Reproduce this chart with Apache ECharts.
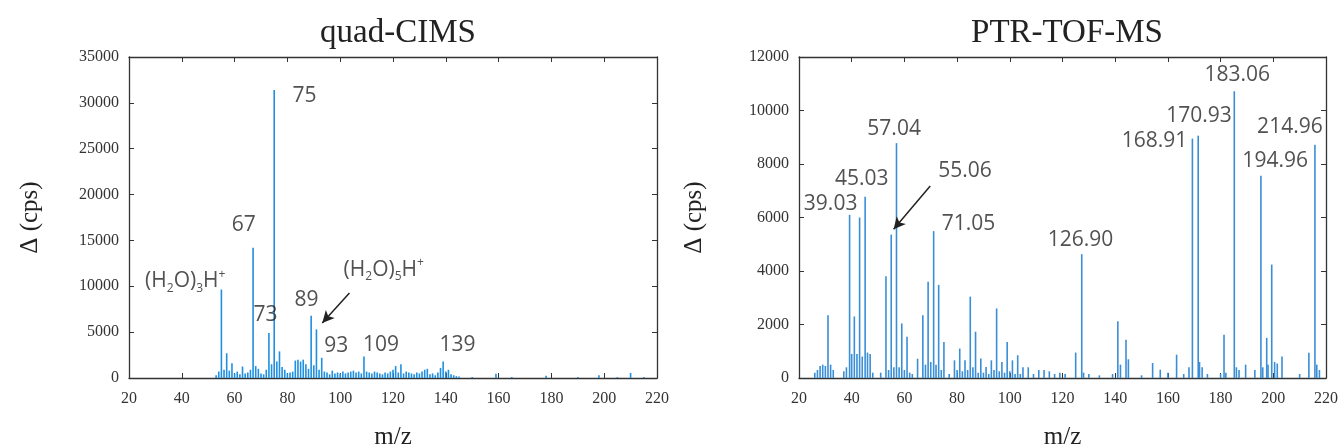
<!DOCTYPE html>
<html>
<head>
<meta charset="utf-8">
<script src="https://cdn.jsdelivr.net/npm/echarts@6/dist/echarts.min.js"></script>
<style>html,body{margin:0;background:#fff}#chart{width:1344px;height:448px}</style>
</head>
<body>
<div id="chart"></div>
<script>
// quad-CIMS spectrum (unit resolution)
var quadMz = [53,54,55,56,57,58,59,60,61,62,63,64,65,66,67,68,69,70,71,72,73,74,75,76,77,78,79,80,81,82,83,84,85,86,87,88,89,90,91,92,93,94,95,96,97,98,99,100,101,102,103,104,105,106,107,108,109,110,111,112,113,114,115,116,117,118,119,120,121,122,123,124,125,126,127,128,129,130,131,132,133,134,135,136,137,138,139,140,141,142,143,144,145,150,159,165,178,190,198,205,210,215];
var quadCps = [300,700,9640,900,2700,800,1600,500,700,400,1250,500,600,900,14200,1300,1000,500,400,900,4900,1500,31400,1800,2900,1200,900,500,600,700,1900,2000,1800,2000,1500,1000,6800,1400,5300,900,2200,700,600,400,800,500,600,500,700,500,600,700,800,600,700,500,2350,700,600,500,700,600,500,400,600,500,700,900,1300,600,1500,500,700,600,500,400,600,500,700,900,1000,400,500,300,600,1100,1800,700,900,400,300,200,150,100,450,100,250,100,300,100,550,100];

// PTR-TOF-MS spectrum
var ptrMz = [26,27,28,29,30,31,32,33,37,38,39.2,40,41,42,43,44,45.1,46,47,48,51,53,54,55,56,57,58,59,60,61,62,63,65,67,68,69,70,71.1,72,73,74,75,77,79,80,81,82,83,84,85,86,87,88,89,90,91,92,93,94,95,96,97,98,99,100,101,102,103,104,105,107,109,111,113,115,117,119,121,125,127.3,128,130,134,139,141,142,144.1,145,150,154.2,157.1,160,163.3,166,168,169.3,171.5,172,173,175,180,181.3,182,185.2,186,187,189.5,193,195.3,196,197.5,198,199.4,200.5,201.5,203.3,210,213.5,215.8,216.5,217.5];
var ptrCps = [200,300,450,500,450,2350,500,300,250,400,6100,900,2300,900,6000,800,6780,950,900,200,200,3800,300,5360,400,8780,400,2040,300,1540,200,150,720,2350,500,3600,600,5490,500,3480,300,1350,150,660,300,1100,250,660,300,3040,400,1730,200,730,200,410,150,660,300,2600,250,600,200,1350,250,660,150,850,150,400,400,150,300,300,250,150,200,150,950,4630,200,150,100,150,2120,500,1430,700,100,560,310,200,870,150,400,8950,9060,600,400,150,150,1620,200,10720,400,300,500,300,7560,400,1500,500,4240,600,540,800,150,940,8720,500,300];

// peak annotations (text, anchor m/z, anchor cps)
var quadLabelText = ['75','67','H3','73','89','H5','93','109','139'];
var quadLabelMz = [86.5,63.5,41.3,71.7,87.2,116.5,98.5,115.5,144.4];
var quadLabelCps = [30700,16700,10540,6900,8550,11800,3450,3640,3640];
var quadArrow = [[103.5,9270],[93.2,6000]];

var ptrLabelText = ['183.06','170.93','168.91','214.96','194.96','57.04','55.06','45.03','39.03','71.05','126.90'];
var ptrLabelMz = [186.3,171.8,154.9,206.3,200.7,56.1,83.0,43.8,32.0,84.3,126.8];
var ptrLabelCps = [11310,9810,8870,9370,8120,9310,7740,7430,6490,5760,5170];
var ptrArrow = [[69.8,7180],[55.9,5560]];

var serif = '"Liberation Serif", serif';
var sans = '"Open Sans", sans-serif';

function xAx(grid, top){
  return {
    type:'value', gridIndex:grid, min:20, max:220, interval:20,
    position: top ? 'top' : 'bottom',
    axisLine:{show:true, onZero:false, lineStyle:{color:'#333', width:1.3}},
    axisTick:{show:true, inside:true, length:5, lineStyle:{color:'#333'}},
    axisLabel:{show:!top, fontFamily:serif, fontSize:16, color:'#333', margin:13},
    splitLine:{show:false},
    name: top ? '' : 'm/z', nameLocation:'middle', nameGap:47,
    nameTextStyle:{fontFamily:serif, fontSize:25, color:'#222'}
  };
}
function yAx(grid, right, max, step, gap){
  return {
    type:'value', gridIndex:grid, min:0, max:max, interval:step,
    position: right ? 'right' : 'left',
    axisLine:{show:true, onZero:false, lineStyle:{color:'#333', width:1.3}},
    axisTick:{show:true, inside:true, length:5, lineStyle:{color:'#333'}},
    axisLabel:{show:!right, fontFamily:serif, fontSize:16, color:'#333', margin:10,
      formatter:function(v){ return String(v); }},
    splitLine:{show:false},
    name: right ? '' : 'Δ (cps)', nameLocation:'middle', nameGap:gap,
    nameTextStyle:{fontFamily:serif, fontSize:25, color:'#222'}
  };
}
function pairs(a, b){ return a.map(function(v,i){ return [v, b[i]]; }); }

var richText = {
  n:{fontFamily:sans, fontSize:21, color:'#262626', lineHeight:26, verticalAlign:'middle'},
  s:{fontFamily:sans, fontSize:12, color:'#262626', lineHeight:12, verticalAlign:'bottom'},
  p:{fontFamily:sans, fontSize:12, color:'#262626', lineHeight:12, verticalAlign:'top'}
};
function fmt(p){
  var t = p.data[2];
  if (t === 'H3') return '{n|(H}{s|2}{n|O)}{s|3}{n|H}{p|+}';
  if (t === 'H5') return '{n|(H}{s|2}{n|O)}{s|5}{n|H}{p|+}';
  return '{n|' + t + '}';
}
function labelSeries(xi, yi, mz, cps, txt, arrow){
  return {
    type:'scatter', xAxisIndex:xi, yAxisIndex:yi, symbolSize:0, silent:true,
    data: mz.map(function(v,i){ return [v, cps[i], txt[i]]; }),
    label:{show:true, position:'inside', formatter:fmt, rich:richText},
    markLine:{
      silent:true, symbol:['none','arrow'], symbolSize:[9,12],
      lineStyle:{color:'#222', width:1.5, type:'solid'}, label:{show:false},
      data:[[{coord:arrow[0]},{coord:arrow[1]}]]
    }
  };
}

var myChart = echarts.init(document.getElementById('chart'));
myChart.setOption({
  animation:false,
  backgroundColor:'#fff',
  title:[
    {text:'quad-CIMS', left:393, top:12, textAlign:'center', textStyle:{fontFamily:serif, fontSize:33, fontWeight:'normal', color:'#222'}},
    {text:'PTR-TOF-MS', left:1062, top:12, textAlign:'center', textStyle:{fontFamily:serif, fontSize:33, fontWeight:'normal', color:'#222'}}
  ],
  grid:[
    {left:129, right:687, top:57, bottom:70, outerBoundsMode:'none'},
    {left:799, right:18, top:57, bottom:70, outerBoundsMode:'none'}
  ],
  xAxis:[xAx(0,false), xAx(0,true), xAx(1,false), xAx(1,true)],
  yAxis:[yAx(0,false,35000,5000,86), yAx(0,true,35000,5000,0), yAx(1,false,12000,2000,92), yAx(1,true,12000,2000,0)],
  series:[
    {type:'bar', xAxisIndex:0, yAxisIndex:0, barWidth:1.6, data:pairs(quadMz, quadCps), itemStyle:{color:'#1f8fe0'}},
    {type:'bar', xAxisIndex:2, yAxisIndex:2, barWidth:1.6, data:pairs(ptrMz, ptrCps), itemStyle:{color:'#3a8ed6'}},
    labelSeries(0, 0, quadLabelMz, quadLabelCps, quadLabelText, quadArrow),
    labelSeries(2, 2, ptrLabelMz, ptrLabelCps, ptrLabelText, ptrArrow)
  ]
});
</script>
</body>
</html>
